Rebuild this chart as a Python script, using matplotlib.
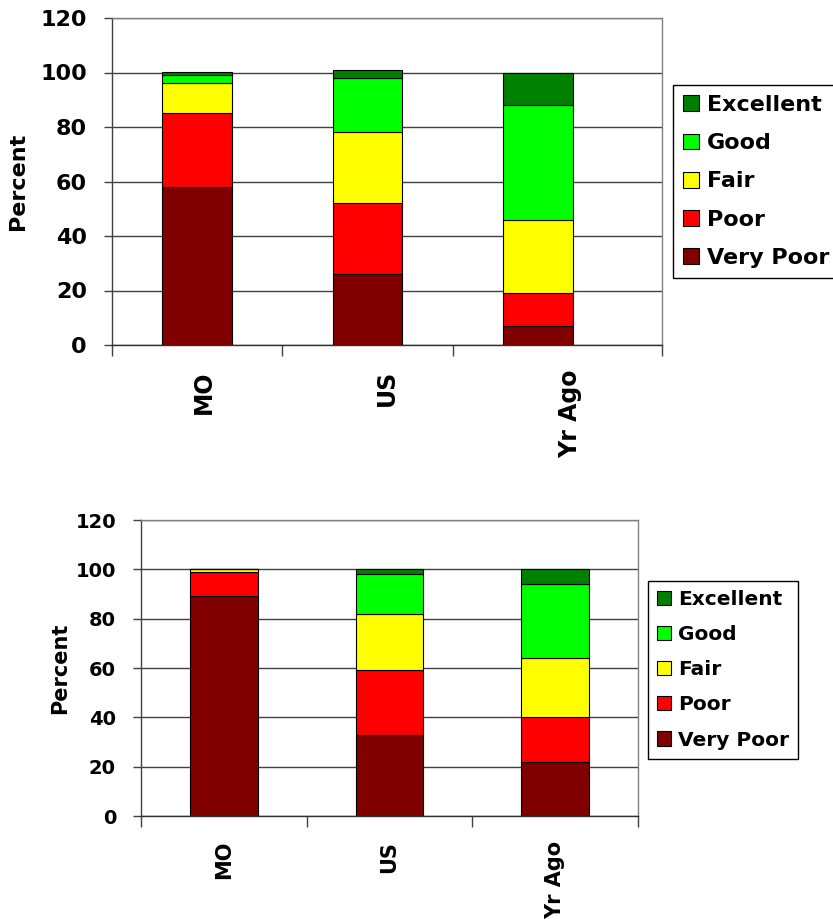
import matplotlib
matplotlib.use("Agg")
import matplotlib.pyplot as plt
import numpy as np

plt.rcParams['font.family'] = 'DejaVu Sans'
plt.rcParams['font.weight'] = 'bold'

categories = ['MO', 'US', 'Yr Ago']
levels = ['Very Poor', 'Poor', 'Fair', 'Good', 'Excellent']
colors = ['#800000', '#ff0000', '#ffff00', '#00ff00', '#008000']

# upper panel, percent of ratings per category
top_very_poor = [58, 26, 7]
top_poor = [27, 26, 12]
top_fair = [11, 26, 27]
top_good = [3, 20, 42]
top_excellent = [1, 3, 12]

# lower panel
bot_very_poor = [89, 33, 22]
bot_poor = [10, 26, 18]
bot_fair = [1, 23, 24]
bot_good = [0, 16, 30]
bot_excellent = [0, 2, 6]

W, H = 833, 923
fig = plt.figure(figsize=(W / 100, H / 100), dpi=100)


def px_axes(left, top, right, bottom):
    return fig.add_axes([left / W, 1 - bottom / H, (right - left) / W, (bottom - top) / H])


def draw_panel(ax, series, xmax, tick_fs, cat_fs, ylab_fs, leg_fs, leg_xy, hsize, lspace, ypad):
    x = np.arange(len(categories))
    bottom = np.zeros(len(categories))
    handles = []
    for vals, lab, col in zip(series, levels, colors):
        b = ax.bar(x, vals, 0.41, bottom=bottom, color=col, edgecolor='black',
                   linewidth=0.8, label=lab, zorder=3)
        handles.append(b)
        bottom = bottom + np.array(vals)

    ax.set_ylim(0, 120)
    ax.set_xlim(-0.5, xmax)
    ax.set_yticks(np.arange(0, 121, 20))
    ax.yaxis.grid(True, color='#404040', linewidth=1.0, zorder=0)
    ax.tick_params(axis='y', labelsize=tick_fs, length=6, width=1, direction='out',
                   pad=12, color='#404040')

    # category labels spread over the plot frame, boundary ticks as minor ticks
    span = xmax + 0.5
    ax.set_xticks([-0.5 + (k + 0.5) * span / 3 for k in range(3)])
    ax.set_xticklabels(categories, rotation=90, fontsize=cat_fs, fontweight='bold',
                       va='top', ha='center')
    ax.tick_params(axis='x', length=0, pad=18)
    ax.set_xticks([-0.5, 0.5, 1.5, xmax], minor=True)
    ax.tick_params(axis='x', which='minor', length=8, width=1, color='#404040')

    ax.set_ylabel('Percent', fontsize=ylab_fs, fontweight='bold', labelpad=ypad)

    for s in ['top', 'right']:
        ax.spines[s].set_color('#808080')
    ax.spines['left'].set_color('#404040')
    ax.spines['bottom'].set_color('#303030')
    for s in ax.spines.values():
        s.set_linewidth(1.0)

    leg = ax.legend(handles[::-1], levels[::-1], loc='upper left',
                    bbox_to_anchor=(leg_xy[0] / W, 1 - leg_xy[1] / H),
                    bbox_transform=fig.transFigure, borderaxespad=0,
                    prop={'size': leg_fs, 'weight': 'bold'}, fancybox=False,
                    edgecolor='black', framealpha=1, handlelength=hsize,
                    handleheight=hsize, handletextpad=0.35, labelspacing=lspace,
                    borderpad=0.45)
    leg.get_frame().set_linewidth(1.0)


ax1 = px_axes(112, 18, 662, 345)
draw_panel(ax1, [top_very_poor, top_poor, top_fair, top_good, top_excellent],
           2.73, 16, 17, 16, 16, (673, 85), 0.72, 0.82, 9)

ax2 = px_axes(141, 520, 638, 816)
draw_panel(ax2, [bot_very_poor, bot_poor, bot_fair, bot_good, bot_excellent],
           2.5, 14, 15, 15, 14.5, (648, 581), 0.7, 0.8, 4)

fig.savefig('out.png', dpi=100)
